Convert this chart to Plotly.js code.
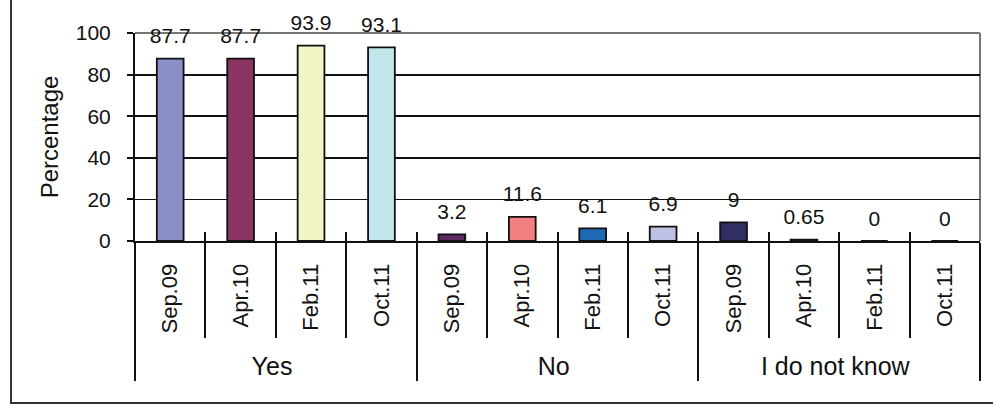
<!DOCTYPE html>
<html>
<head>
<meta charset="utf-8">
<script src="https://cdn.plot.ly/plotly-3.0.1.min.js"></script>
<style>
  html, body { margin: 0; padding: 0; background: #fff; }
  #wrap { position: relative; width: 993px; height: 416px; }
  #chart { position: absolute; left: 0; top: 0; width: 993px; height: 416px; }
  #frame { position: absolute; left: 10px; top: -2px; width: 990px; height: 404px;
           border-left: 2px solid #333; border-bottom: 2px solid #333; pointer-events: none; }
</style>
</head>
<body>
<div id="wrap">
  <div id="chart"></div>
  <div id="frame"></div>
</div>
<script>
// ---- data ----
const groups = ["Yes", "Yes", "Yes", "Yes", "No", "No", "No", "No",
                "I do not know", "I do not know", "I do not know", "I do not know"];
const periods = ["Sep.09", "Apr.10", "Feb.11", "Oct.11",
                 "Sep.09", "Apr.10", "Feb.11", "Oct.11",
                 "Sep.09", "Apr.10", "Feb.11", "Oct.11"];
const values = [87.7, 87.7, 93.9, 93.1, 3.2, 11.6, 6.1, 6.9, 9, 0.65, 0, 0];
const valueLabels = ["87.7", "87.7", "93.9", "93.1", "3.2", "11.6", "6.1", "6.9", "9", "0.65", "0", "0"];
const barColors = ["#8a8fc8", "#8b3562", "#f4f5c6", "#c3e6ec",
                   "#5a2a60", "#f28080", "#1f68b4", "#bec1e4",
                   "#2f2f62", "#111111", "#ffffff", "#ffffff"];
const yTicks = [0, 20, 40, 60, 80, 100];

const FONT = "Liberation Sans, Arial, sans-serif";
const INK = "#111";

// label presentation for the two category levels
const groupLabels = groups.map(g => '<span style="font-size:25px">' + g + '</span>');
const periodLabels = periods.map(p => '\u00a0\u00a0' + p);
const xCats = [groupLabels, periodLabels];

const bars = {
  type: "bar",
  x: xCats,
  y: values,
  text: valueLabels.map(t => '<span style="font-size:21px">' + t + '</span><br> '),
  textposition: "outside",
  textfont: { family: FONT, size: 8, color: INK },
  constraintext: "none",
  cliponaxis: false,
  marker: { color: barColors, line: { color: INK, width: 1.8 } },
  hoverinfo: "none"
};

// invisible carrier so the overlay axis (short upward tick stubs) knows the categories
const stubs = {
  type: "scatter", mode: "none",
  x: xCats, y: values,
  xaxis: "x2", yaxis: "y", hoverinfo: "none", showlegend: false
};

const layout = {
  width: 993, height: 416,
  margin: { l: 135, r: 13, t: 33, b: 175 },
  paper_bgcolor: "#fff", plot_bgcolor: "#fff",
  showlegend: false,
  bargap: 0.62,
  font: { family: FONT, color: INK },
  xaxis: {
    type: "multicategory",
    tickangle: -90,
    tickfont: { family: FONT, size: 22, color: INK },
    ticklabelstandoff: 12,
    ticks: "outside", ticklen: 95, tickwidth: 2, tickcolor: INK,
    showline: true, linecolor: INK, linewidth: 2,
    showdividers: true, dividercolor: INK, dividerwidth: 2,
    showgrid: false, zeroline: false
  },
  xaxis2: {
    type: "multicategory",
    overlaying: "x", anchor: "y", side: "bottom", matches: "x",
    ticks: "inside", ticklen: 9, tickwidth: 2, tickcolor: INK,
    showticklabels: false, showdividers: false, showline: false,
    showgrid: false, zeroline: false
  },
  yaxis: {
    range: [0, 100],
    tickvals: yTicks,
    ticktext: yTicks.map(String),
    tickfont: { family: FONT, size: 21, color: INK },
    ticks: "outside", ticklen: 6, tickwidth: 2, tickcolor: INK,
    ticklabelstandoff: 12,
    showline: true, linecolor: INK, linewidth: 2,
    showgrid: true, gridcolor: INK, gridwidth: 1.8,
    zeroline: false,
    title: { text: "Percentage", font: { family: FONT, size: 24, color: INK }, standoff: 10 }
  },
  shapes: [
    { type: "line", xref: "paper", yref: "paper", x0: 0, x1: 1, y0: 1, y1: 1,
      line: { color: "#777", width: 2 }, layer: "below" },
    { type: "line", xref: "paper", yref: "paper", x0: 1, x1: 1, y0: 0, y1: 1,
      line: { color: "#777", width: 2 }, layer: "below" }
  ]
};

Plotly.newPlot("chart", [bars, stubs], layout, { staticPlot: true, displayModeBar: false });
</script>
</body>
</html>
